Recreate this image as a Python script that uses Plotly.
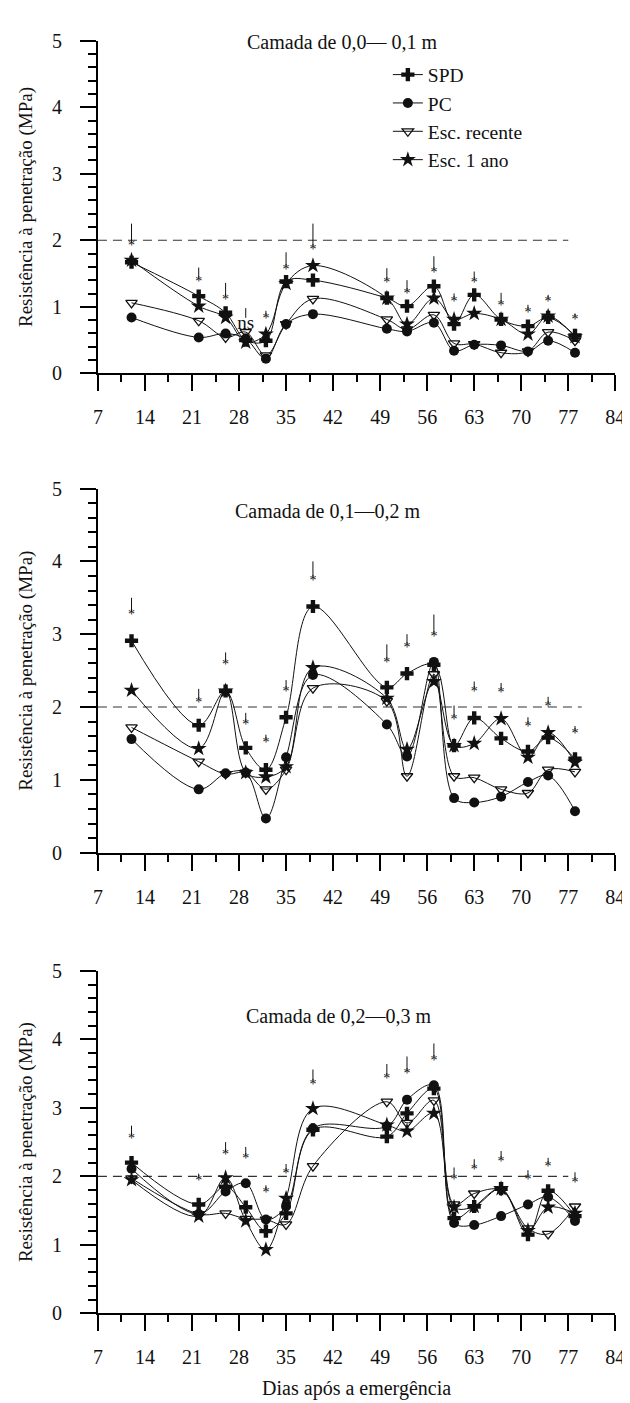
import plotly.graph_objects as go

# ---------------- data ----------------
days = [12, 22, 26, 29, 32, 35, 39, 50, 53, 57, 60, 63, 67, 71, 74, 78]
series_names = ["SPD", "PC", "Esc. recente", "Esc. 1 ano"]
panel_titles = ["Camada de 0,0\u2014 0,1 m", "Camada de 0,1\u20140,2 m", "Camada de 0,2\u20140,3 m"]

# Layer 0.0-0.1 m
spd_1 = [1.67, 1.16, 0.91, 0.50, 0.49, 1.38, 1.40, 1.13, 1.01, 1.31, 0.74, 1.18, 0.81, 0.71, 0.84, 0.57]
pc_1 = [0.84, 0.54, 0.60, 0.52, 0.22, 0.74, 0.89, 0.67, 0.63, 0.76, 0.34, 0.43, 0.42, 0.33, 0.49, 0.31]
rec_1 = [1.06, 0.79, 0.54, 0.62, 0.27, 0.74, 1.12, 0.81, 0.66, 0.88, 0.45, 0.44, 0.31, 0.33, 0.62, 0.49]
ano_1 = [1.70, 1.01, 0.84, 0.47, 0.59, 1.35, 1.62, 1.13, 0.74, 1.13, 0.81, 0.90, 0.81, 0.59, 0.86, 0.55]

# Layer 0.1-0.2 m
spd_2 = [2.91, 1.75, 2.22, 1.44, 1.14, 1.86, 3.38, 2.27, 2.46, 2.58, 1.47, 1.85, 1.57, 1.39, 1.58, 1.29]
pc_2 = [1.56, 0.87, 1.09, 1.10, 0.47, 1.31, 2.44, 1.76, 1.32, 2.62, 0.75, 0.69, 0.77, 0.97, 1.06, 0.57]
rec_2 = [1.72, 1.25, 1.08, 1.10, 0.87, 1.14, 2.26, 2.08, 1.05, 2.45, 1.05, 1.03, 0.87, 0.82, 1.14, 1.11]
ano_2 = [2.23, 1.43, 2.22, 1.10, 1.04, 1.18, 2.54, 2.12, 1.42, 2.35, 1.47, 1.50, 1.84, 1.31, 1.65, 1.24]

# Layer 0.2-0.3 m
spd_3 = [2.20, 1.59, 1.85, 1.55, 1.20, 1.46, 2.68, 2.58, 2.92, 3.28, 1.39, 1.56, 1.82, 1.15, 1.79, 1.42]
pc_3 = [2.11, 1.45, 1.78, 1.90, 1.37, 1.56, 2.70, 2.73, 3.12, 3.33, 1.32, 1.29, 1.42, 1.59, 1.70, 1.35]
rec_3 = [1.97, 1.45, 1.46, 1.38, 1.37, 1.30, 2.15, 3.09, 2.78, 3.11, 1.59, 1.75, 1.80, 1.24, 1.16, 1.56]
ano_3 = [1.95, 1.42, 1.98, 1.35, 0.93, 1.68, 2.99, 2.75, 2.66, 2.92, 1.55, 1.56, 1.82, 1.21, 1.55, 1.46]

# significance marks: label, arrow top value, label value
sig_label_1 = ["*", "*", "*", "ns", "*", "*", "*", "*", "*", "*", "*", "*", "*", "*", "*", "*"]
sig_top_1 = [2.25, 1.59, 1.36, 0.98, 0.94, 1.82, 2.25, 1.58, 1.40, 1.76, 1.20, 1.53, 1.21, 1.03, 1.18, 0.90]
sig_val_1 = [1.90, 1.37, 1.10, 0.74, 0.81, 1.55, 1.85, 1.35, 1.18, 1.50, 1.06, 1.35, 1.01, 0.90, 1.06, 0.80]

sig_label_2 = ["*"] * 16
sig_top_2 = [3.50, 2.25, 2.75, 1.92, 1.62, 2.37, 4.00, 2.86, 3.00, 3.27, 2.02, 2.35, 2.33, 1.86, 2.14, 1.74]
sig_val_2 = [3.25, 2.05, 2.57, 1.74, 1.50, 2.20, 3.72, 2.60, 2.80, 2.95, 1.82, 2.20, 2.19, 1.72, 2.00, 1.62]

sig_label_3 = ["*"] * 16
sig_top_3 = [2.74, 2.04, 2.50, 2.43, 1.87, 2.18, 3.56, 3.64, 3.75, 3.94, 2.13, 2.25, 2.37, 2.09, 2.27, 2.06]
sig_val_3 = [2.54, 1.92, 2.30, 2.25, 1.75, 2.02, 3.33, 3.42, 3.48, 3.68, 1.94, 2.08, 2.20, 1.94, 2.13, 1.90]

critical_value = [2.0, 2.0]
critical_span = [[7, 77], [7, 79], [7, 77]]

y_ticks = [0, 1, 2, 3, 4, 5]
x_ticks = [7, 14, 21, 28, 35, 42, 49, 56, 63, 70, 77, 84]

# ---------------- styling ----------------
W, H = 630, 1403
FONT = "Liberation Serif"
INK = "#111111"

def px_x(p):
    return p / W

def px_y(p):
    return 1 - p / H

x_dom = [px_x(87), px_x(617)]
y_doms = [[px_y(360), px_y(22)], [px_y(847), px_y(477)], [px_y(1315), px_y(967)]]
title_pos = [(337, 23), (322, 500), (333, 1013)]
panel_px_per_unit = [(360 - 22) / 5, (847 - 477) / 5, (1315 - 967) / 5]

markers = [
    dict(symbol="cross", size=11, color=INK),
    dict(symbol="circle", size=10, color=INK),
    dict(symbol="triangle-down-open", size=10, color=INK, line=dict(width=1.3, color=INK)),
    dict(symbol="star", size=12, color=INK),
]

panels = [
    ([spd_1, pc_1, rec_1, ano_1], sig_label_1, sig_top_1, sig_val_1),
    ([spd_2, pc_2, rec_2, ano_2], sig_label_2, sig_top_2, sig_val_2),
    ([spd_3, pc_3, rec_3, ano_3], sig_label_3, sig_top_3, sig_val_3),
]

fig = go.Figure()
annotations = []

for i, (series, labels, tops, vals) in enumerate(panels):
    xa = "x" if i == 0 else f"x{i+1}"
    ya = "y" if i == 0 else f"y{i+1}"
    # critical line
    fig.add_trace(go.Scatter(
        x=critical_span[i], y=critical_value, mode="lines", xaxis=xa, yaxis=ya,
        line=dict(color="#333333", width=1.1, dash="9px,6px"), showlegend=False, hoverinfo="skip"))
    for name, vals_s, mk in zip(series_names, series, markers):
        fig.add_trace(go.Scatter(
            x=days, y=vals_s, name=name, mode="lines+markers", xaxis=xa, yaxis=ya,
            line=dict(color=INK, width=1, shape="spline", smoothing=1.0),
            marker=mk, showlegend=(i == 0)))
    # significance marks: vertical stroke ending at the label
    gap = 4.0 / panel_px_per_unit[i]
    lx, ly = [], []
    for d, lab, t, v in zip(days, labels, tops, vals):
        lx += [d, d, None]
        ly += [t, v + (gap * 1.6 if lab == "ns" else gap), None]
    fig.add_trace(go.Scatter(
        x=lx, y=ly, mode="lines", xaxis=xa, yaxis=ya, line=dict(color=INK, width=1),
        showlegend=False, hoverinfo="skip"))
    fig.add_trace(go.Scatter(
        x=days, y=vals, mode="text", text=labels, xaxis=xa, yaxis=ya,
        textposition="middle center",
        textfont=dict(family=FONT, color=INK,
                      size=[14 if lab == "*" else 19 for lab in labels]),
        showlegend=False, hoverinfo="skip"))
    tx, ty = title_pos[i]
    annotations.append(dict(
        x=px_x(tx), y=px_y(ty), xref="paper", yref="paper", text=panel_titles[i],
        showarrow=False, xanchor="center", yanchor="middle",
        font=dict(family=FONT, size=20, color=INK)))

axis_common = dict(
    showline=True, linecolor="black", linewidth=2, ticks="outside", ticklen=16,
    tickwidth=2, tickcolor="black", showgrid=False, zeroline=False,
    tickfont=dict(family=FONT, size=20, color=INK))

layout = dict(
    width=W, height=H, paper_bgcolor="white", plot_bgcolor="white",
    margin=dict(l=0, r=0, t=0, b=0),
    font=dict(family=FONT, color=INK),
    annotations=annotations,
    legend=dict(x=px_x(384), y=px_y(37), xanchor="left", yanchor="top",
                font=dict(family=FONT, size=19.5, color=INK), bgcolor="rgba(0,0,0,0)",
                itemwidth=30, tracegroupgap=0),
    showlegend=True,
)

for i in range(3):
    xk = "xaxis" if i == 0 else f"xaxis{i+1}"
    yk = "yaxis" if i == 0 else f"yaxis{i+1}"
    ya = "y" if i == 0 else f"y{i+1}"
    xa = "x" if i == 0 else f"x{i+1}"
    layout[xk] = dict(
        axis_common, domain=x_dom, anchor=ya, range=[7, 84], tickvals=x_ticks,
        ticklabelstandoff=9,
        minor=dict(tickvals=[t + 3.5 for t in x_ticks[:-1]], ticks="outside", ticklen=7,
                   tickwidth=2, tickcolor="black", showgrid=False),
        title=dict(text="Dias após a emergência" if i == 2 else "",
                   font=dict(family=FONT, size=20, color=INK), standoff=14))
    layout[yk] = dict(
        axis_common, domain=y_doms[i], anchor=xa, range=[0, 5], tickvals=y_ticks,
        ticklabelstandoff=14,
        minor=dict(dtick=0.2, tick0=0, ticks="outside", ticklen=8, tickwidth=2,
                   tickcolor="black", showgrid=False),
        title=dict(text="Resistência à penetração (MPa)",
                   font=dict(family=FONT, size=19, color=INK), standoff=14))

fig.update_layout(**layout)
fig.write_html("out.html")
